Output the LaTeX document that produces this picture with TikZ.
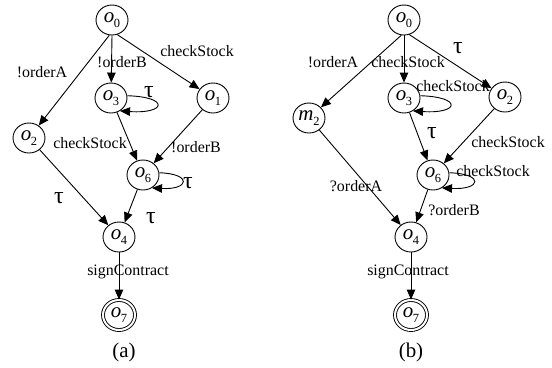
\documentclass[tikz,border=0pt]{standalone}
\usepackage{fontspec}
\setmainfont{Liberation Serif}
\usetikzlibrary{arrows.meta,shapes.geometric,calc}
% state name: italic letter with a lowered upright index
\newcommand{\stname}[2]{{\fontsize{21}{21}\selectfont\textit{#1}}\kern-0.3bp\raisebox{-4.5bp}{\fontsize{12.5}{12.5}\selectfont #2}}
\newcommand{\tauglyph}{{\fontsize{24}{24}\selectfont τ}}
\tikzset{
  state/.style={draw, ellipse, line width=0.9bp, minimum width=32bp, minimum height=30bp, inner sep=0pt},
  final/.style={state, double, double distance=2bp},
  arr/.style={line width=0.9bp, -{Triangle[length=10bp,width=8.5bp]}},
  lbl/.style={inner sep=0pt, font=\fontsize{16}{18}\selectfont},
  taulbl/.style={inner sep=0pt},
  captionlbl/.style={inner sep=0pt, font=\fontsize{21}{23}\selectfont}
}
\begin{document}
\begin{tikzpicture}[x=1bp,y=-1bp]
\useasboundingbox (0,0) rectangle (552,367);

% ---------------- (a) ----------------
\node[state] (a0) at (112,20) {\stname{o}{0}};
\node[state] (a3) at (111,98) {\stname{o}{3}};
\node[state] (a1) at (213,98) {\stname{o}{1}};
\node[state] (a2) at (29,138) {\stname{o}{2}};
\node[state] (a6) at (143,175) {\stname{o}{6}};
\node[state] (a4) at (119,237) {\stname{o}{4}};
\node[final] (a7) at (119,315) {\stname{o}{7}};

\draw[arr] (a0.-100) -- (a2);
\draw[arr] (a0.south) -- (a3);
\draw[arr] (a0.-70) -- (a1);
\draw[arr] (a3) -- (a6);
\draw[arr] (a1) -- (a6);
\draw[arr] (a2) -- (a4);
\draw[arr] (a6) -- (a4);
\draw[arr] (a4) -- (a7);
\draw[arr] (a3.8) .. controls ($(a3)+(59,-1)$) and ($(a3)+(55,16)$) .. (a3.-55);
\draw[arr] (a6.8) .. controls ($(a6)+(50,-1)$) and ($(a6)+(46,15)$) .. (a6.-55);

\node[lbl] (la1) at (42,72) {!orderA};
\node[lbl] (la2) at (122,62) {!orderB};
\node[lbl] (la3) at (197,51) {checkStock};
\node[lbl] (la4) at (90,143) {checkStock};
\node[lbl] (la5) at (196,147) {!orderB};
\node[lbl] (la6) at (128,272) {signContract};
\node[taulbl] (ta1) at (149,92) {\tauglyph};
\node[taulbl] (ta2) at (188,183) {\tauglyph};
\node[taulbl] (ta3) at (59,198) {\tauglyph};
\node[taulbl] (ta4) at (151,218) {\tauglyph};
\node[captionlbl] (capa) at (124,352) {(a)};

% ---------------- (b) ----------------
\node[state] (b0) at (404,20) {\stname{o}{0}};
\node[state] (b3) at (404,98) {\stname{o}{3}};
\node[state] (b2) at (505,97) {\stname{o}{2}};
\node[state] (bm) at (309,118) {\stname{m}{2}};
\node[state] (b6) at (433,175) {\stname{o}{6}};
\node[state] (b4) at (411,237) {\stname{o}{4}};
\node[final] (b7) at (411,315) {\stname{o}{7}};

\draw[arr] (b0.-100) -- (bm);
\draw[arr] (b0.south) -- (b3);
\draw[arr] (b0.-70) -- (b2);
\draw[arr] (b3) -- (b6);
\draw[arr] (b2) -- (b6);
\draw[arr] (bm) -- (b4);
\draw[arr] (b6) -- (b4);
\draw[arr] (b4) -- (b7);
\draw[arr] (b3.8) .. controls ($(b3)+(59,-1)$) and ($(b3)+(55,16)$) .. (b3.-55);
\draw[arr] (b6.8) .. controls ($(b6)+(52,-1)$) and ($(b6)+(48,15)$) .. (b6.-55);

\node[lbl] (lb1) at (333,62) {!orderA};
\node[lbl] (lb2) at (408,62) {checkStock};
\node[lbl] (lb3) at (453,86) {checkStock};
\node[lbl] (lb4) at (508,142) {checkStock};
\node[lbl] (lb5) at (493,171) {checkStock};
\node[lbl] (lb6) at (356,186) {?orderA};
\node[lbl] (lb7) at (454,210) {?orderB};
\node[lbl] (lb8) at (408,272) {signContract};
\node[taulbl] (tb1) at (458,48) {\tauglyph};
\node[taulbl] (tb2) at (432,133) {\tauglyph};
\node[captionlbl] (capb) at (411,352) {(b)};
\end{tikzpicture}
\end{document}
